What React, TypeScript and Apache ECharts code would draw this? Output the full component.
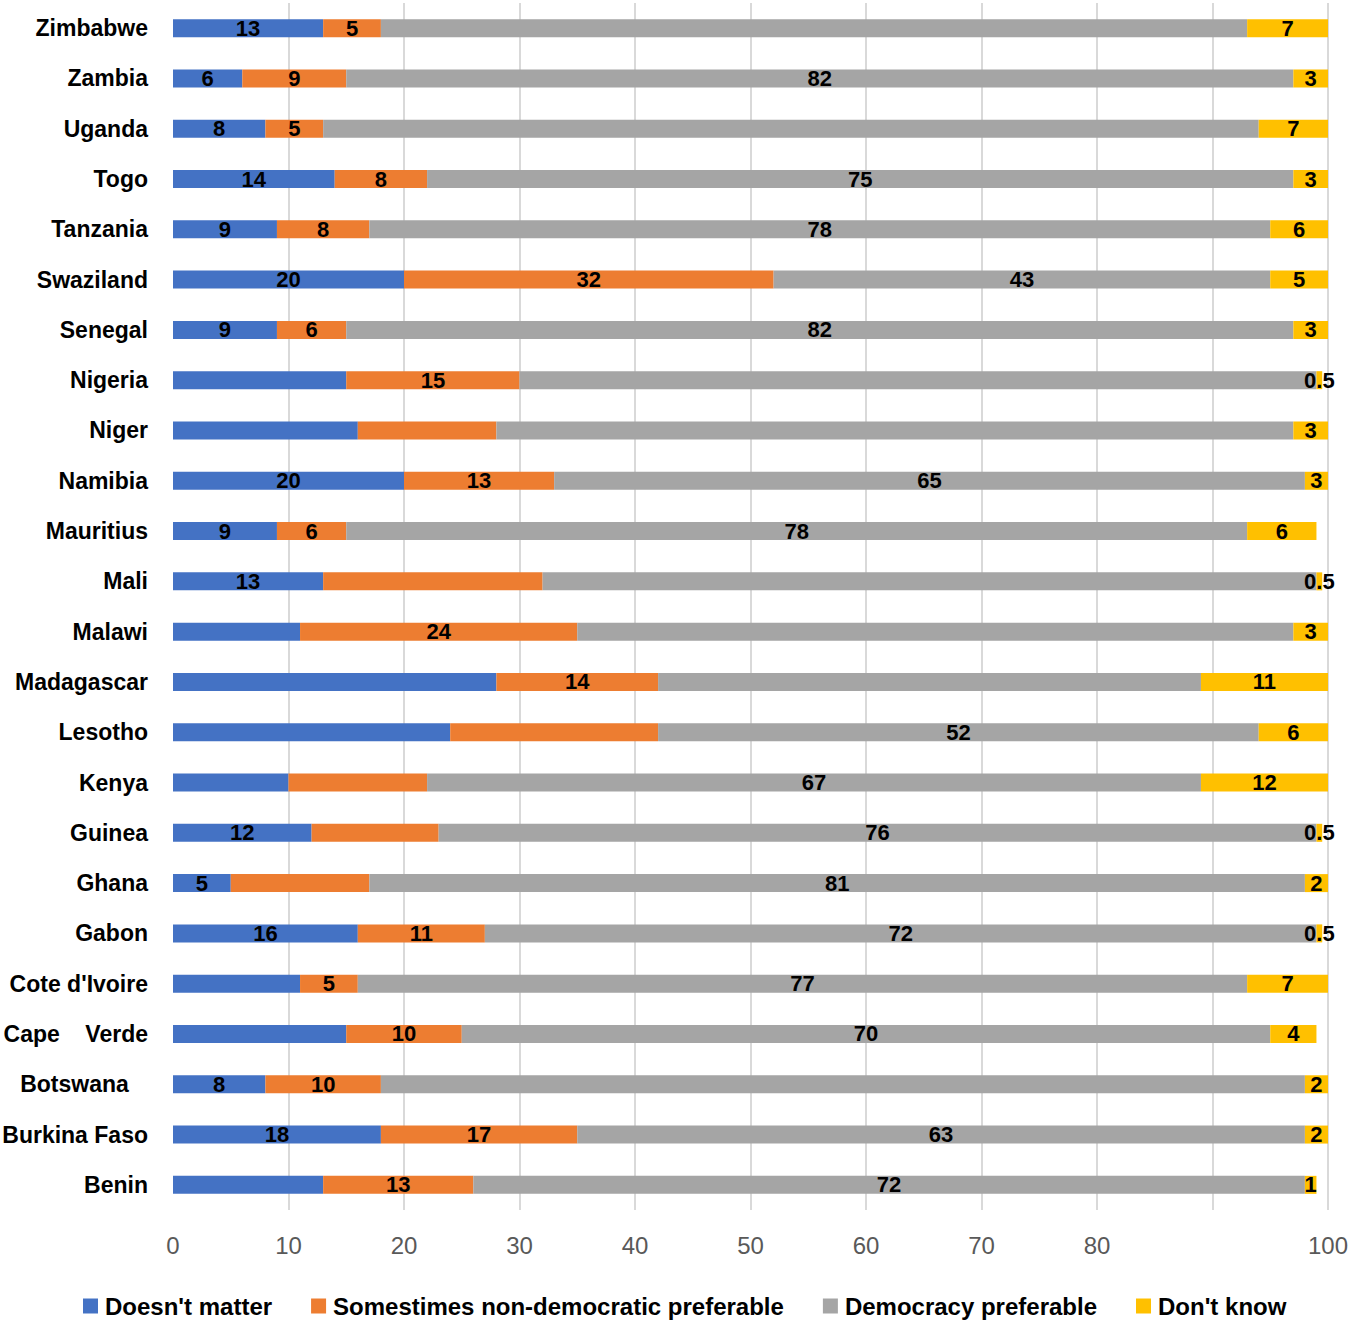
import React, { useEffect, useRef } from "react";
import * as echarts from "echarts";

// Categories, bottom to top
const countries = [
  "Benin",
  "Burkina Faso",
  "Botswana\u00A0\u00A0\u00A0",
  "Cape\u00A0\u00A0\u00A0\u00A0Verde",
  "Cote d'Ivoire",
  "Gabon",
  "Ghana",
  "Guinea",
  "Kenya",
  "Lesotho",
  "Madagascar",
  "Malawi",
  "Mali",
  "Mauritius",
  "Namibia",
  "Niger",
  "Nigeria",
  "Senegal",
  "Swaziland",
  "Tanzania",
  "Togo",
  "Uganda",
  "Zambia",
  "Zimbabwe",
];

const seriesNames = [
  "Doesn't matter",
  "Somestimes non-democratic preferable",
  "Democracy preferable",
  "Don't know",
];

const doesntMatter = [13, 18, 8, 15, 11, 16, 5, 12, 10, 24, 28, 11, 13, 9, 20, 16, 15, 9, 20, 9, 14, 8, 6, 13];
const doesntMatterLabeled = [false, true, true, false, false, true, true, true, false, false, false, false, true, true, true, false, false, true, true, true, true, true, true, true];

const nonDemocratic = [13, 17, 10, 10, 5, 11, 12, 11, 12, 18, 14, 24, 19, 6, 13, 12, 15, 6, 32, 8, 8, 5, 9, 5];
const nonDemocraticLabeled = [true, true, true, true, true, true, false, false, false, false, true, true, false, true, true, false, true, true, true, true, true, true, true, true];

const democracy = [72, 63, 80, 70, 77, 72, 81, 76, 67, 52, 47, 62, 67, 78, 65, 69, 69, 82, 43, 78, 75, 81, 82, 75];
const democracyLabeled = [true, true, false, true, true, true, true, true, true, true, false, false, false, true, true, false, false, true, true, true, true, false, true, false];

const dontKnow = [1, 2, 2, 4, 7, 0.5, 2, 0.5, 12, 6, 11, 3, 0.5, 6, 3, 3, 0.5, 3, 5, 6, 3, 7, 3, 7];
const dontKnowLabeled = [true, true, true, true, true, true, true, true, true, true, true, true, true, true, true, true, true, true, true, true, true, true, true, true];

const xTickLabels = ["0", "10", "20", "30", "40", "50", "60", "70", "80", "", "100"];

const colors = ["#4472C4", "#ED7D31", "#A5A5A5", "#FFC000"];
const FONT = "'Liberation Sans', Arial, sans-serif";

export default function App() {
  const ref = useRef<HTMLDivElement>(null);

  useEffect(() => {
    document.body.style.margin = "0";
    const chart = echarts.init(ref.current!, null, { renderer: "svg" });

    const valueSets = [doesntMatter, nonDemocratic, democracy, dontKnow];
    const labelSets = [doesntMatterLabeled, nonDemocraticLabeled, democracyLabeled, dontKnowLabeled];

    const series = seriesNames.map((name, si) => ({
      name,
      type: "bar",
      stack: "total",
      barWidth: 18,
      clip: true,
      itemStyle: { color: colors[si] },
      label: {
        show: true,
        position: "inside",
        color: "#000",
        fontWeight: "bold",
        fontSize: 22,
        fontFamily: FONT,
      },
      emphasis: { disabled: true },
      data: valueSets[si].map((v, i) => ({
        value: v,
        label: { show: labelSets[si][i] },
      })),
    }));

    chart.setOption({
      animation: false,
      color: colors,
      textStyle: { fontFamily: FONT },
      grid: {
        left: 173,
        right: 22,
        top: 3,
        bottom: 111,
        containLabel: false,
        outerBoundsMode: "none",
      },
      legend: {
        left: 78,
        top: 1289,
        icon: "rect",
        itemWidth: 15,
        itemHeight: 15,
        itemGap: 39,
        textStyle: {
          fontSize: 24,
          fontWeight: "bold",
          color: "#000",
          fontFamily: FONT,
          padding: [0, 0, 0, 2],
        },
        data: seriesNames,
      },
      xAxis: {
        type: "value",
        min: 0,
        max: 100,
        interval: 10,
        axisLine: { show: false },
        axisTick: { show: false },
        axisLabel: {
          fontSize: 24,
          color: "#595959",
          margin: 23,
          fontFamily: FONT,
          formatter: (v: number) => xTickLabels[Math.round(v / 10)] ?? "",
        },
        splitLine: {
          show: true,
          showMinLine: false,
          lineStyle: { color: "#D9D9D9", width: 2 },
        },
      },
      yAxis: {
        type: "category",
        data: countries,
        axisLine: { show: false },
        axisTick: { show: false },
        splitLine: { show: false },
        axisLabel: {
          fontSize: 23,
          fontWeight: "bold",
          color: "#000",
          margin: 25,
          fontFamily: FONT,
        },
      },
      series,
    });

    return () => chart.dispose();
  }, []);

  return (
    <div
      ref={ref}
      style={{ position: "absolute", left: 0, top: 0, width: 1350, height: 1321 }}
    />
  );
}
